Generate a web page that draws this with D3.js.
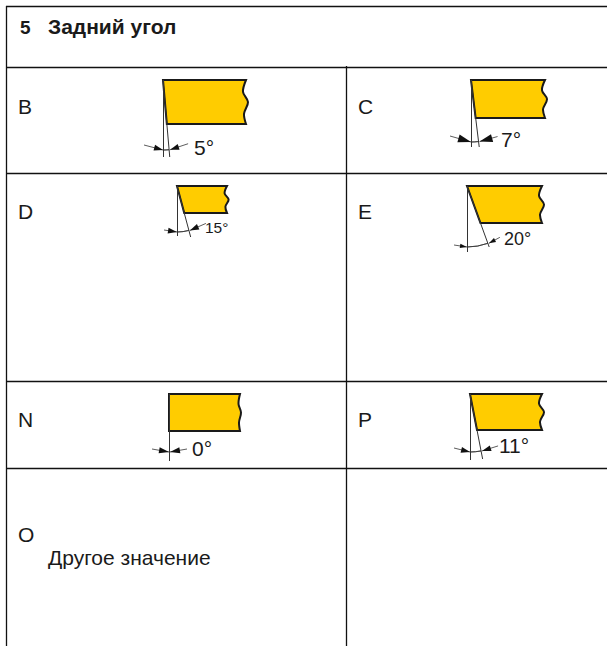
<!DOCTYPE html>
<html>
<head>
<meta charset="utf-8">
<script src="https://cdn.jsdelivr.net/npm/d3@7"></script>
<style>
  html, body { margin: 0; padding: 0; background: #fff; }
  svg { display: block; }
  text { font-family: "Liberation Sans", Arial, sans-serif; fill: #1a1a1a; }
</style>
</head>
<body>
<div id="chart"></div>
<script>
const title = 'Задний угол';
const titleNo = '5';
const codes = ['B', 'C', 'D', 'E', 'N', 'P'];
const angles = [5, 7, 15, 20, 0, 11];
const otherCode = 'O';
const otherText = 'Другое значение';

// drawing layout, same order as codes
const originX = [163, 471, 177, 467, 169, 470];
const originY = [80, 80, 186, 186, 394, 394];
const rightX = [246, 545, 227, 542, 240, 542];
const bottomY = [124, 118, 213, 223, 431, 430];
const vertEnd = [157, 147, 236, 252, 461, 460];
const slantEnd = [157, 147, 237, 247, 461, 459];
const waveAmp = [1, 1, 0.8, 1, 0.5, 1];
const arcR = [70, 62, 46, 61, 58, 58];
const leftTail = [[-19, -5], [-21, -6], [-13, -2], [-13, -2], [-17, -3], [-16, -4]];
const rightTail = [[18, -6], [18, -5], [16, -7], [11, -6], [17, -3], [16, -5]];
const headLen = [9, 13, 9, 7, 10, 9];
const headHalf = [3, 4, 3, 2.2, 3, 3];
const labelX = [194, 501, 205, 504, 192, 499];
const labelY = [155, 147, 233, 245, 456, 453];
const labelSize = [21, 21, 15.5, 18, 21, 21];
const codeY = [114, 114, 219, 219, 427, 427];

const width = 607, height = 646;
const svg = d3.select('#chart').append('svg')
  .attr('width', width)
  .attr('height', height);

// table grid
const rowLines = [6, 67, 173, 381, 468];
const grid = svg.append('g').attr('stroke', '#111').attr('stroke-width', 1.3);
rowLines.forEach(y => {
  grid.append('line').attr('x1', 6).attr('x2', width).attr('y1', y + 0.5).attr('y2', y + 0.5);
});
grid.append('line').attr('x1', 6.5).attr('x2', 6.5).attr('y1', 6).attr('y2', height);
grid.append('line').attr('x1', 346.5).attr('x2', 346.5).attr('y1', 66).attr('y2', height);

// header
svg.append('text').attr('x', 20).attr('y', 34).attr('font-size', 19).attr('font-weight', 'bold').text(titleNo);
svg.append('text').attr('x', 48).attr('y', 34).attr('font-size', 21).attr('font-weight', 'bold').text(title);

const rad = d3.scaleLinear().domain([0, 180]).range([0, Math.PI]);

// small arrow pointing at (x, y), tail given as an offset from the tip
function drawArrow(g, x, y, tail, len, half) {
  const d = Math.hypot(tail[0], tail[1]);
  const ux = tail[0] / d, uy = tail[1] / d;
  const bx = x + ux * len, by = y + uy * len;
  g.append('line')
    .attr('x1', x).attr('y1', y)
    .attr('x2', x + tail[0]).attr('y2', y + tail[1])
    .attr('stroke', '#333').attr('stroke-width', 0.8);
  g.append('path')
    .attr('d', d3.line()([[x, y], [bx - uy * half, by + ux * half], [bx + uy * half, by - ux * half]]) + 'Z')
    .attr('fill', '#111');
}

function drawInsert(i) {
  const g = svg.append('g');
  const x0 = originX[i], y0 = originY[i], x1 = rightX[i], y1 = bottomY[i];
  const a = rad(angles[i]);
  const h = y1 - y0;
  const amp = waveAmp[i];
  const r = arcR[i];

  g.append('text').attr('x', i % 2 === 0 ? 18 : 358).attr('y', codeY[i])
    .attr('font-size', 21).text(codes[i]);

  // wavy broken edge on the right
  const edge = d3.line().curve(d3.curveCatmullRom);
  const wave = [
    [x1, y0], [x1 - 3 * amp, y0 + h * 0.27], [x1 + 2 * amp, y0 + h * 0.5],
    [x1 - 2 * amp, y0 + h * 0.77], [x1, y1]
  ];
  g.append('path')
    .attr('d', 'M' + x0 + ',' + y0 + 'L' + edge(wave).slice(1) + 'L' + (x0 + Math.tan(a) * h) + ',' + y1 + 'Z')
    .attr('fill', '#ffcc00')
    .attr('stroke', '#1a1a1a')
    .attr('stroke-width', 2)
    .attr('stroke-linejoin', 'miter');

  // reference lines
  g.append('line').attr('x1', x0 + 0.5).attr('x2', x0 + 0.5).attr('y1', y0).attr('y2', vertEnd[i])
    .attr('stroke', '#333').attr('stroke-width', 1);
  if (angles[i] > 0) {
    g.append('line').attr('x1', x0).attr('y1', y0)
      .attr('x2', x0 + Math.tan(a) * (slantEnd[i] - y0)).attr('y2', slantEnd[i])
      .attr('stroke', '#333').attr('stroke-width', 1);
    // angle arc between the two lines
    g.append('path')
      .attr('transform', 'translate(' + x0 + ',' + y0 + ')')
      .attr('d', d3.arc()({ innerRadius: r, outerRadius: r, startAngle: Math.PI, endAngle: Math.PI - a }))
      .attr('fill', 'none').attr('stroke', '#333').attr('stroke-width', 0.8);
  }

  // arrows, from outside towards each line
  drawArrow(g, x0, y0 + r, leftTail[i], headLen[i], headHalf[i]);
  drawArrow(g, x0 + Math.sin(a) * r + 1, y0 + Math.cos(a) * r, rightTail[i], headLen[i], headHalf[i]);

  g.append('text').attr('x', labelX[i]).attr('y', labelY[i]).attr('font-size', labelSize[i])
    .text(angles[i] + '°');
}

codes.forEach((c, i) => drawInsert(i));

// other value cell
svg.append('text').attr('x', 18).attr('y', 542).attr('font-size', 21).text(otherCode);
svg.append('text').attr('x', 48).attr('y', 565).attr('font-size', 21).text(otherText);
</script>
</body>
</html>
